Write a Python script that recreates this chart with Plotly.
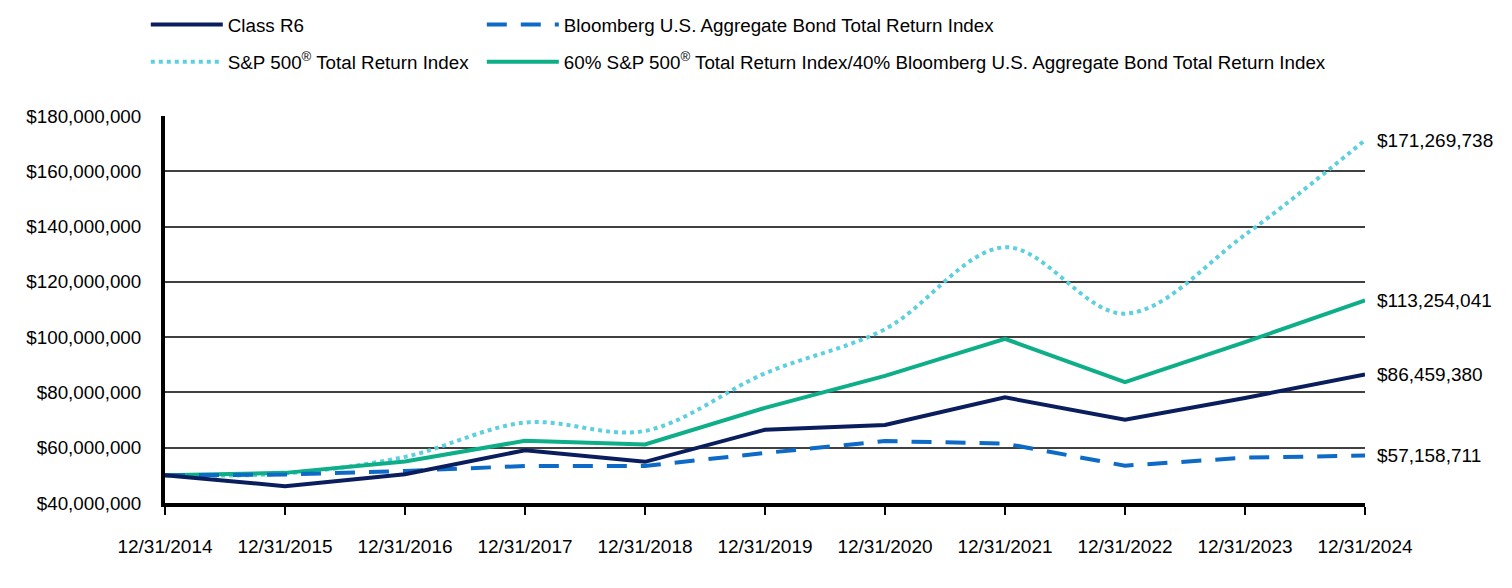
import plotly.graph_objects as go

dates = ["12/31/2014", "12/31/2015", "12/31/2016", "12/31/2017", "12/31/2018",
         "12/31/2019", "12/31/2020", "12/31/2021", "12/31/2022", "12/31/2023", "12/31/2024"]

class_r6 = [50.0e6, 46.1e6, 50.4e6, 59.1e6, 54.9e6, 66.5e6, 68.2e6, 78.2e6, 70.1e6, 78.0e6, 86459380]
bloomberg = [50.0e6, 50.3e6, 51.6e6, 53.4e6, 53.4e6, 58.1e6, 62.4e6, 61.5e6, 53.5e6, 56.4e6, 57158711]
sp500 = [50.0e6, 50.7e6, 56.7e6, 69.1e6, 66.1e6, 86.9e6, 102.9e6, 132.5e6, 108.5e6, 137.0e6, 171269738]
blend = [50.0e6, 50.9e6, 55.0e6, 62.5e6, 61.2e6, 74.4e6, 86.0e6, 99.4e6, 83.7e6, 98.2e6, 113254041]

y_ticks = [40e6, 60e6, 80e6, 100e6, 120e6, 140e6, 160e6, 180e6]
y_tick_text = [f"${v:,.0f}" for v in y_ticks]

names = {
    "r6": "Class R6",
    "bb": "Bloomberg U.S. Aggregate Bond Total Return Index",
    "sp": "S&P 500<sup>®</sup> Total Return Index",
    "bl": "60% S&P 500<sup>®</sup> Total Return Index/40% Bloomberg U.S. Aggregate Bond Total Return Index",
}

NAVY = "#0A1E5E"
BLUE = "#0D6AC6"
CYAN = "#5DD0DE"
GREEN = "#0DAE88"
FONT = "Liberation Sans, Arial, sans-serif"
FS = 19

fig = go.Figure()
fig.add_trace(go.Scatter(x=dates, y=sp500, name=names["sp"], mode="lines",
                         line=dict(color=CYAN, width=4, dash="dot", shape="spline"),
                         legend="legend", legendgroup="sp", legendrank=2))
fig.add_trace(go.Scatter(x=dates, y=blend, name=names["bl"], mode="lines",
                         line=dict(color=GREEN, width=4),
                         legend="legend2", legendgroup="bl", legendrank=2))
fig.add_trace(go.Scatter(x=dates, y=bloomberg, name=names["bb"], mode="lines",
                         line=dict(color=BLUE, width=4, dash="20px,14px"),
                         legend="legend2", legendgroup="bb", legendrank=1))
fig.add_trace(go.Scatter(x=dates, y=class_r6, name=names["r6"], mode="lines",
                         line=dict(color=NAVY, width=4),
                         legend="legend", legendgroup="r6", legendrank=1))

for series in (sp500, blend, class_r6, bloomberg):
    fig.add_annotation(x=dates[-1], y=series[-1], xref="x", yref="y",
                       text=f"${series[-1]:,.0f}", showarrow=False,
                       xanchor="left", yanchor="middle", xshift=10,
                       font=dict(family=FONT, size=FS, color="#000000"))

leg_common = dict(orientation="v", xanchor="left", yanchor="top",
                  font=dict(family=FONT, size=18.8, color="#000000"),
                  bgcolor="rgba(0,0,0,0)", itemwidth=72, tracegroupgap=10,
                  traceorder="grouped")

fig.update_layout(
    width=1504, height=580,
    margin=dict(l=157, r=147, t=108, b=85, autoexpand=False),
    paper_bgcolor="white", plot_bgcolor="white",
    font=dict(family=FONT, size=FS, color="#000000"),
    showlegend=True,
    legend=dict(x=-0.016, y=1.285, **leg_common),
    legend2=dict(x=0.264, y=1.285, **leg_common),
    xaxis=dict(type="category", range=[0, 10], showgrid=False, zeroline=False,
               showline=True, linecolor="#000000", linewidth=4, automargin=False,
               ticks="outside", ticklen=8, tickwidth=2, tickcolor="#000000",
               ticklabelstandoff=15, tickfont=dict(family=FONT, size=FS)),
    yaxis=dict(range=[40e6, 180e6], tickvals=y_ticks, ticktext=y_tick_text,
               showgrid=True, gridcolor="#404040", gridwidth=2, automargin=False,
               zeroline=False, showline=True, linecolor="#000000", linewidth=4,
               ticks="", ticklabelstandoff=16, tickfont=dict(family=FONT, size=18.8)),
)

fig.write_html("out.html")
